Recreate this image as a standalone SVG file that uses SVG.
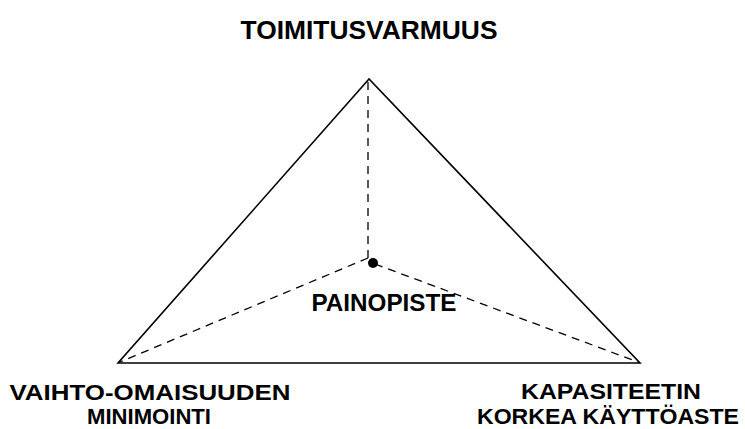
<svg xmlns="http://www.w3.org/2000/svg" width="745" height="429" viewBox="0 0 745 429">
<style>
.lbl{font-family:"Liberation Sans",Arial,sans-serif;font-weight:bold;fill:#000;text-anchor:middle}
.solid{fill:none;stroke:#000;stroke-width:1.6}
.dash{fill:none;stroke:#000;stroke-width:1.3;stroke-dasharray:8,6}
</style>
<rect width="745" height="429" fill="#fff"/>
<g id="connectors">
<polygon class="solid" points="369,79 118,363 640,363"/>
<line class="dash" x1="368" y1="82" x2="368" y2="258"/>
<line class="dash" x1="368" y1="258" x2="120" y2="362"/>
<line class="dash" x1="375" y1="264" x2="638" y2="362"/>
</g>
<g id="painopiste">
<circle cx="373" cy="263" r="5" fill="#000"/>
<text class="lbl" x="384" y="311" font-size="23" textLength="145" lengthAdjust="spacingAndGlyphs">PAINOPISTE</text>
</g>
<g id="toimitusvarmuus">
<text class="lbl" x="369" y="39" font-size="26" textLength="257" lengthAdjust="spacingAndGlyphs">TOIMITUSVARMUUS</text>
</g>
<g id="vaihto">
<text class="lbl" x="150" y="400" font-size="21.5" textLength="281" lengthAdjust="spacingAndGlyphs">VAIHTO-OMAISUUDEN</text>
<text class="lbl" x="149" y="424" font-size="21.5" textLength="124" lengthAdjust="spacingAndGlyphs">MINIMOINTI</text>
</g>
<g id="kapasiteetti">
<text class="lbl" x="611" y="399" font-size="21.5" textLength="180" lengthAdjust="spacingAndGlyphs">KAPASITEETIN</text>
<text class="lbl" x="608" y="424" font-size="21.5" textLength="262" lengthAdjust="spacingAndGlyphs">KORKEA KÄYTTÖASTE</text>
</g>
</svg>
